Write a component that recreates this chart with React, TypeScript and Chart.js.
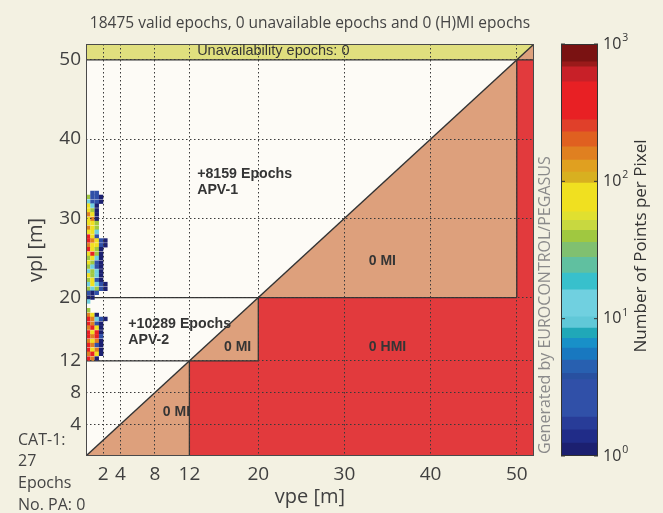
import React, { useEffect, useRef } from 'react';
import { Chart, registerables } from 'chart.js';

Chart.register(...registerables);

// ---------- data ----------
const TITLE = '18475 valid epochs, 0 unavailable epochs and 0 (H)MI epochs';
const X_TITLE = 'vpe [m]';
const Y_TITLE = 'vpl [m]';
const AXIS_MIN = 0;
const AXIS_MAX = 52;
const X_TICKS = [2, 4, 8, 12, 20, 30, 40, 50];
const Y_TICKS = [4, 8, 12, 20, 30, 40, 50];

// region boundaries (vpe, vpl)
const MI_REGION = [[0, 0], [52, 52]];
const HMI_REGION = [[12, 0], [12, 12], [20, 12], [20, 20], [50, 20], [50, 50], [52, 50]];
const UNAVAIL_TOP = [[0, 52], [52, 52]];
const UNAVAIL_BASE = 50;
const OUTLINES = [
  [[0, 12], [20, 12]],
  [[12, 0], [12, 12]],
  [[20, 12], [20, 20]],
  [[0, 20], [50, 20]],
  [[50, 20], [50, 50]],
  [[0, 50], [52, 50]],
  [[0, 0], [52, 52]],
];

// 2-D histogram cells (vpe column centres, vpl row centres, level code per column)
const SCATTER_COLS = [0.25, 0.75, 1.25, 1.75, 2.25];
const SCATTER_ROW_Y = [
  33.2, 32.7, 32.1, 31.6, 31.0, 30.5, 29.9, 29.4, 28.8, 28.3,
  27.7, 27.2, 26.6, 26.1, 25.5, 25.0, 24.4, 23.9, 23.3, 22.8,
  22.2, 21.7, 21.1, 20.6, 20.0, 19.5, 18.9, 18.4, 17.8, 17.3,
  16.7, 16.2, 15.6, 15.1, 14.5, 14.0, 13.4, 12.9, 12.3,
];
const SCATTER_ROWS = [
  '.BB..', 'gBBb.', 'cBBb.', 'ycb..', 'ygb..', 'oyb..', 'yob..', 'yyg..', 'oyg..', 'yyc..',
  'ryB..', 'royBb', 'oyyBb', 'rygb.', 'yrgb.', 'gycb.', 'ygBb.', 'gcBb.', 'cgcb.', 'ygcb.',
  'gyBb.', 'cycBb', 'gcgBb', 'BbB..', 'bb...', 'c....', '.....', 'g....', 'oyb..', 'rocBb',
  'roBb.', 'oryb.', 'ryrb.', 'rorB.', 'oyob.', 'roBb.', 'ryob.', 'oryb.', 'rob..',
];
const LEVEL_COUNTS: Record<string, number> = { b: 1.1, B: 2.5, c: 12, g: 38, y: 70, o: 160, r: 350 };

// colour bar (points per pixel, log scale)
const BAND_EDGES = [1, 1.24, 1.55, 1.92, 3.6, 4.0, 5, 6.1, 7.2, 8.55, 10.3, 16.2, 21.5, 28, 36, 44, 52, 60, 97, 117, 143, 178, 229, 280, 530, 681, 741, 1000];
const BAND_COLORS = [
  '#1c2070', '#202c88', '#283c98', '#3050a8', '#2850a0', '#2860b0', '#1878c0', '#1890c8', '#20a8b8',
  '#60c8d8', '#70d0e0', '#38c0cc', '#60c0a0', '#80c070', '#a0c840', '#c8d840', '#e0e030', '#f0e020',
  '#d8b020', '#e0a020', '#e08020', '#e06020', '#e0402a', '#e82024', '#c82028', '#9a1a1a', '#7a1212',
];
const CB_DECADES = [1, 10, 100, 1000];
const CB_EXPONENTS = ['0', '1', '2', '3'];
const CB_TITLE = 'Number of Points per Pixel';

const PLOT_LABELS = [
  { text: 'Unavailability epochs: 0', x: 12.9, y: 51.1, align: 'left', bold: false, size: 14.5, clipX: null as number | null },
  { text: '+8159 Epochs', x: 12.9, y: 35.6, align: 'left', bold: true, size: 14.2, clipX: null },
  { text: 'APV-1', x: 12.9, y: 33.5, align: 'left', bold: true, size: 14.2, clipX: null },
  { text: '+10289 Epochs', x: 4.9, y: 16.6, align: 'left', bold: true, size: 14.2, clipX: null },
  { text: 'APV-2', x: 4.9, y: 14.6, align: 'left', bold: true, size: 14.2, clipX: null },
  { text: '0 MI', x: 34.4, y: 24.6, align: 'center', bold: true, size: 14, clipX: null },
  { text: '0 MI', x: 17.6, y: 13.7, align: 'center', bold: true, size: 14, clipX: null },
  { text: '0 HMI', x: 35.0, y: 13.7, align: 'center', bold: true, size: 14, clipX: null },
  { text: '0 MI', x: 10.5, y: 5.5, align: 'center', bold: true, size: 14, clipX: 12 },
];
const SIDE_NOTE = ['CAT-1:', '27', 'Epochs', 'No. PA: 0'];
const CREDIT = 'Generated by EUROCONTROL/PEGASUS';

// ---------- helpers ----------
const FONT = "'Open Sans', sans-serif";
const PLOT_FONT = "'Liberation Sans', Arial, sans-serif";
const pts = (arr: number[][]) => arr.map(([x, y]) => ({ x, y }));

function colorForCount(c: number) {
  for (let i = 0; i < BAND_COLORS.length; i++) {
    if (c >= BAND_EDGES[i] && c < BAND_EDGES[i + 1]) return BAND_COLORS[i];
  }
  return BAND_COLORS[BAND_COLORS.length - 1];
}

const scatterData: { x: number; y: number }[] = [];
const scatterColors: string[] = [];
SCATTER_ROWS.forEach((row, i) => {
  row.split('').forEach((ch, j) => {
    if (ch === '.') return;
    scatterData.push({ x: SCATTER_COLS[j], y: SCATTER_ROW_Y[i] });
    scatterColors.push(colorForCount(LEVEL_COUNTS[ch]));
  });
});

const mainPlugin = {
  id: 'mainDecor',
  beforeDraw(chart: any) {
    const { ctx, chartArea: a } = chart;
    ctx.save();
    ctx.fillStyle = '#fdfbf6';
    ctx.fillRect(a.left, a.top, a.right - a.left, a.bottom - a.top);
    ctx.restore();
  },
  afterDraw(chart: any) {
    const { ctx, chartArea: a, scales } = chart;
    const xs = scales.x;
    const ys = scales.y;
    ctx.save();
    // frame
    ctx.strokeStyle = '#4a4a4a';
    ctx.lineWidth = 1;
    ctx.strokeRect(a.left + 0.5, a.top + 0.5, a.right - a.left - 1, a.bottom - a.top - 1);
    // in-plot labels
    ctx.fillStyle = '#353535';
    ctx.textBaseline = 'middle';
    PLOT_LABELS.forEach((l) => {
      ctx.save();
      if (l.clipX != null) {
        const cx = xs.getPixelForValue(l.clipX);
        ctx.beginPath();
        ctx.rect(a.left, a.top, cx - a.left, a.bottom - a.top);
        ctx.clip();
      }
      ctx.font = `${l.bold ? 'bold ' : ''}${l.size}px ${PLOT_FONT}`;
      ctx.textAlign = l.align as CanvasTextAlign;
      ctx.fillText(l.text, xs.getPixelForValue(l.x), ys.getPixelForValue(l.y));
      ctx.restore();
    });
    // side note
    ctx.fillStyle = '#444';
    ctx.font = `16px ${FONT}`;
    ctx.textAlign = 'left';
    const noteY = [440, 461, 483, 505];
    SIDE_NOTE.forEach((t, i) => ctx.fillText(t, 18, noteY[i]));
    // credit
    ctx.save();
    ctx.translate(a.right + 11, a.bottom - 2);
    ctx.rotate(-Math.PI / 2);
    ctx.fillStyle = '#8a8a8a';
    ctx.font = `16px ${FONT}`;
    ctx.textAlign = 'left';
    ctx.textBaseline = 'middle';
    ctx.fillText(CREDIT, 0, 0);
    ctx.restore();
    ctx.restore();
  },
};

const cbPlugin = {
  id: 'cbDecor',
  afterDraw(chart: any) {
    const { ctx, chartArea: a, scales } = chart;
    const ys = scales.y;
    ctx.save();
    ctx.strokeStyle = '#333';
    ctx.lineWidth = 1;
    ctx.strokeRect(a.left + 0.5, a.top + 0.5, a.right - a.left - 1, a.bottom - a.top - 1);
    CB_DECADES.forEach((v, i) => {
      const y = ys.getPixelForValue(v);
      ctx.beginPath();
      ctx.moveTo(a.left, y);
      ctx.lineTo(a.left + 4, y);
      ctx.moveTo(a.right - 4, y);
      ctx.lineTo(a.right, y);
      ctx.stroke();
      ctx.fillStyle = '#333';
      ctx.textBaseline = 'middle';
      ctx.textAlign = 'left';
      ctx.font = `16px ${FONT}`;
      const x0 = a.right + 5;
      ctx.fillText('10', x0, y);
      const w = ctx.measureText('10').width;
      ctx.font = `10.5px ${FONT}`;
      ctx.fillText(CB_EXPONENTS[i], x0 + w + 1, y - 6);
    });
    ctx.translate(101, 246);
    ctx.rotate(-Math.PI / 2);
    ctx.fillStyle = '#333';
    ctx.font = `17px ${FONT}`;
    ctx.textAlign = 'center';
    ctx.textBaseline = 'middle';
    ctx.fillText(CB_TITLE, 0, 0);
    ctx.restore();
  },
};

const tickFont = { family: FONT, size: 19 };
const gridOpts = { color: '#3a3a3a', lineWidth: 1, drawTicks: false, z: 1 };

export default function App() {
  const mainRef = useRef<HTMLCanvasElement>(null);
  const cbRef = useRef<HTMLCanvasElement>(null);

  useEffect(() => {
    const fillDs = (data: number[][], color: string, fill: any, order: number) => ({
      data: pts(data),
      backgroundColor: color,
      borderWidth: 0,
      pointRadius: 0,
      fill,
      order,
    });
    const main = new Chart(mainRef.current!, {
      type: 'line',
      data: {
        datasets: [
          {
            data: scatterData,
            showLine: false,
            pointStyle: 'rect',
            pointRadius: 3.1,
            pointBackgroundColor: scatterColors,
            pointBorderWidth: 0,
            order: 0,
          } as any,
          ...OUTLINES.map((seg) => ({
            data: pts(seg),
            borderColor: '#333',
            borderWidth: 1.3,
            pointRadius: 0,
            fill: false,
            order: 1,
          })),
          fillDs(HMI_REGION, '#e23a3d', 'origin', 8),
          fillDs(MI_REGION, '#dda07c', 'origin', 9),
          fillDs(UNAVAIL_TOP, '#e0df7e', { value: UNAVAIL_BASE }, 10),
        ],
      },
      options: {
        animation: false,
        responsive: false,
        layout: { padding: { left: 0, right: 129, top: 0, bottom: 0 } },
        plugins: {
          legend: { display: false },
          tooltip: { enabled: false },
          title: {
            display: true,
            text: TITLE,
            fullSize: false,
            color: '#444',
            font: { family: FONT, size: 15.5, weight: 'normal' },
            padding: { top: 14, bottom: 11.4 },
          },
        },
        scales: {
          x: {
            type: 'linear',
            min: AXIS_MIN,
            max: AXIS_MAX,
            afterBuildTicks: (s: any) => { s.ticks = X_TICKS.map((v) => ({ value: v })); },
            afterFit: (s: any) => { s.height = 57; },
            ticks: { autoSkip: false, maxRotation: 0, padding: 7, font: tickFont, color: '#404040' },
            grid: gridOpts,
            border: { display: false, dash: [1.5, 2.5] },
            title: { display: true, text: X_TITLE, color: '#404040', font: { family: FONT, size: 20 }, padding: { top: 0, bottom: 4 } },
          },
          y: {
            type: 'linear',
            min: AXIS_MIN,
            max: AXIS_MAX,
            afterBuildTicks: (s: any) => { s.ticks = Y_TICKS.map((v) => ({ value: v })); },
            afterFit: (s: any) => { s.width = 86; },
            ticks: { autoSkip: false, padding: 5, font: tickFont, color: '#404040' },
            grid: gridOpts,
            border: { display: false, dash: [1.5, 2.5] },
            title: { display: true, text: Y_TITLE, color: '#404040', font: { family: FONT, size: 20 }, padding: { top: 24, bottom: 0 } },
          },
        },
      } as any,
      plugins: [mainPlugin],
    });

    const cb = new Chart(cbRef.current!, {
      type: 'bar',
      data: {
        labels: ['n'],
        datasets: BAND_COLORS.map((c, i) => ({
          data: [[BAND_EDGES[i], BAND_EDGES[i + 1]]] as any,
          backgroundColor: c,
          borderWidth: 0,
          barPercentage: 1,
          categoryPercentage: 1,
          grouped: false,
        })),
      },
      options: {
        animation: false,
        responsive: false,
        layout: { padding: { left: 21, right: 0, top: 44, bottom: 57 } },
        plugins: { legend: { display: false }, tooltip: { enabled: false } },
        scales: {
          x: { display: false },
          y: {
            type: 'logarithmic',
            min: 1,
            max: 1000,
            position: 'right',
            ticks: { display: false },
            grid: { display: false },
            border: { display: false },
            afterFit: (s: any) => { s.width = 65; },
          },
        },
      } as any,
      plugins: [cbPlugin],
    });

    return () => {
      main.destroy();
      cb.destroy();
    };
  }, []);

  return (
    <div style={{ position: 'fixed', left: 0, top: 0, width: 663, height: 513, background: '#f3f1e2', overflow: 'hidden' }}>
      <canvas ref={mainRef} width={663} height={513} style={{ position: 'absolute', left: 0, top: 0 }} />
      <canvas ref={cbRef} width={123} height={513} style={{ position: 'absolute', left: 540, top: 0 }} />
    </div>
  );
}
